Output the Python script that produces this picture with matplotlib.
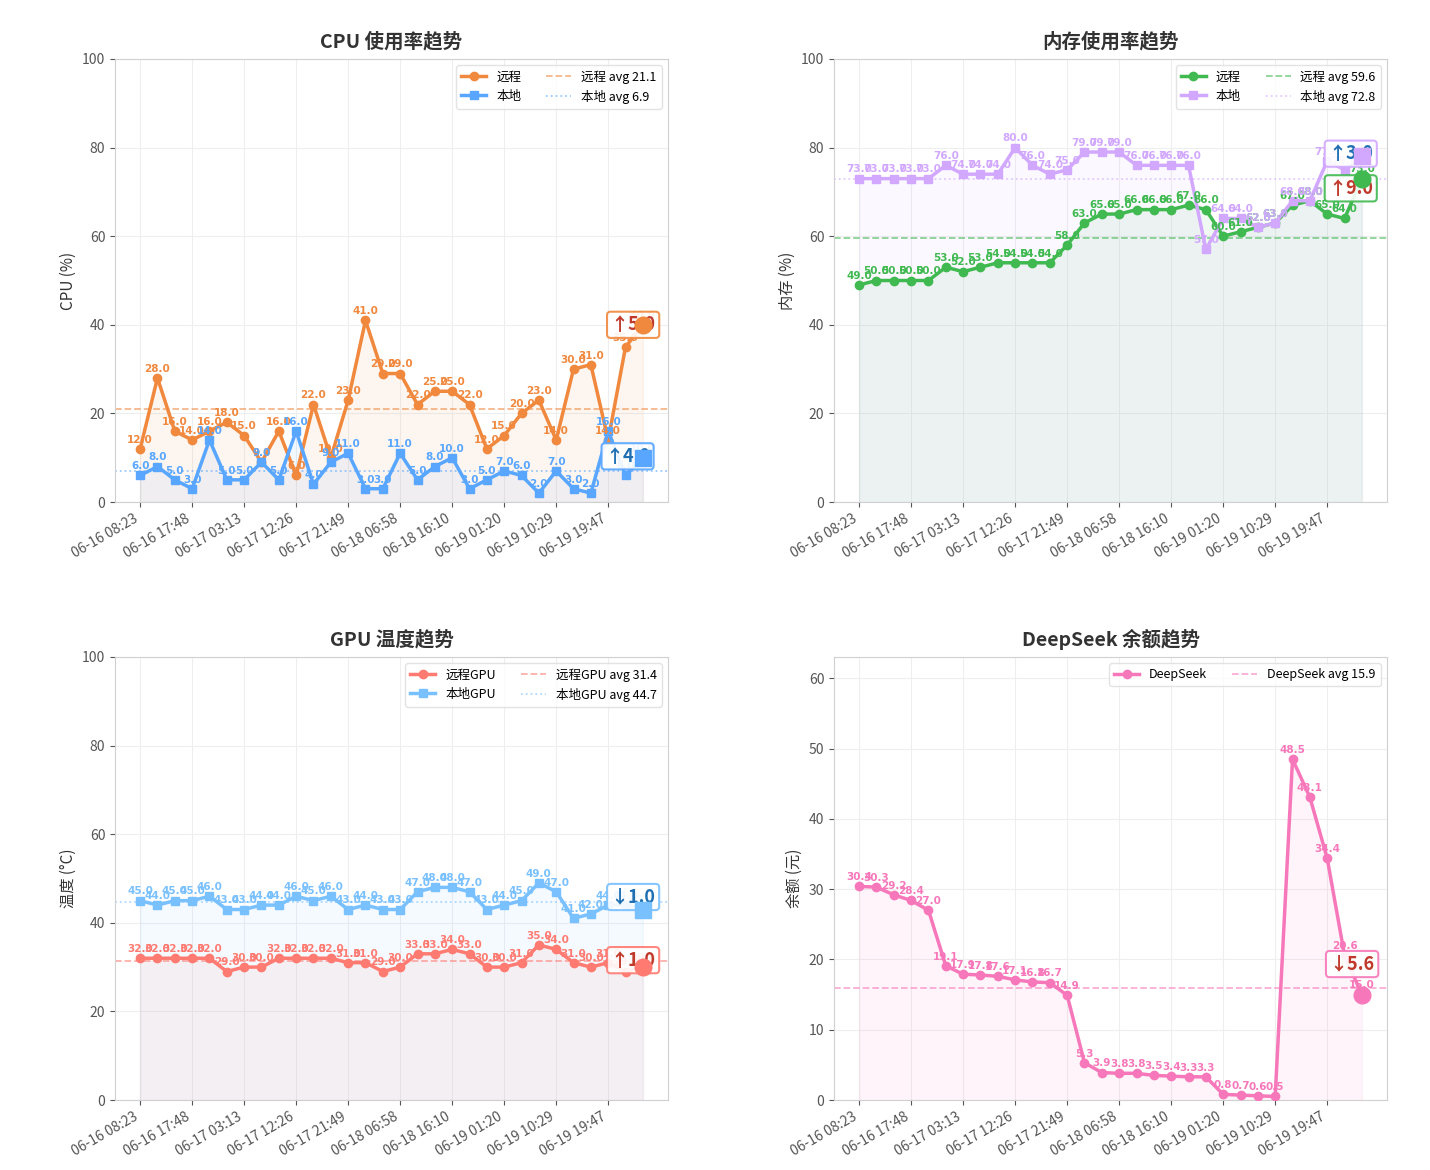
import matplotlib
matplotlib.use("Agg")
import matplotlib.pyplot as plt
import numpy as np

plt.rcParams['font.family'] = ['Noto Sans CJK SC', 'DejaVu Sans']
plt.rcParams['axes.unicode_minus'] = False

# ---------------- data ----------------
tick_labels = ["06-16 08:23", "06-16 17:48", "06-17 03:13", "06-17 12:26", "06-17 21:49",
               "06-18 06:58", "06-18 16:10", "06-19 01:20", "06-19 10:29", "06-19 19:47"]

cpu_remote = [12, 28, 16, 14, 16, 18, 15, 9, 16, 6, 22, 10, 23, 41, 29, 29, 22, 25, 25, 22,
              12, 15, 20, 23, 14, 30, 31, 14, 35, 40]
cpu_local = [6, 8, 5, 3, 14, 5, 5, 9, 5, 16, 4, 9, 11, 3, 3, 11, 5, 8, 10, 3,
             5, 7, 6, 2, 7, 3, 2, 16, 6, 10]

mem_remote = [49, 50, 50, 50, 50, 53, 52, 53, 54, 54, 54, 54, 58, 63, 65, 65, 66, 66, 66, 67,
              66, 60, 61, 62, 63, 67, 68, 65, 64, 73]
mem_local = [73, 73, 73, 73, 73, 76, 74, 74, 74, 80, 76, 74, 75, 79, 79, 79, 76, 76, 76, 76,
             57, 64, 64, 62, 63, 68, 68, 77, 75, 78]

gpu_remote = [32, 32, 32, 32, 32, 29, 30, 30, 32, 32, 32, 32, 31, 31, 29, 30, 33, 33, 34, 33,
              30, 30, 31, 35, 34, 31, 30, 31, 29, 30]
gpu_local = [45, 44, 45, 45, 46, 43, 43, 44, 44, 46, 45, 46, 43, 44, 43, 43, 47, 48, 48, 47,
             43, 44, 45, 49, 47, 41, 42, 44, 44, 43]

deepseek = [30.4, 30.3, 29.2, 28.4, 27.0, 19.1, 17.9, 17.8, 17.6, 17.1, 16.8, 16.7, 14.9, 5.3, 3.9,
            3.8, 3.8, 3.5, 3.4, 3.3, 3.3, 0.8, 0.7, 0.6, 0.5, 48.5, 43.1, 34.4, 20.6, 15.0]

# ---------------- style ----------------
C_ORANGE = "#f0883e"
C_BLUE = "#58a6ff"
C_GREEN = "#3fb950"
C_PURPLE = "#d2a8ff"
C_RED = "#ff7b72"
C_LBLUE = "#79c0ff"
C_PINK = "#f778ba"
TXT_UP = "#c0392b"
TXT_2 = "#1f6fb2"

fig = plt.figure(figsize=(14.3, 11.7), dpi=100)
W, H = 1430, 1170
def ax_at(x0, y0, x1, y1):
    return fig.add_axes([x0 / W, 1 - y1 / H, (x1 - x0) / W, (y1 - y0) / H])

axes = [ax_at(115, 59, 668, 502), ax_at(834, 59, 1387, 502),
        ax_at(115, 657, 668, 1100), ax_at(834, 657, 1387, 1100)]


def draw(ax, title, ylabel, series, ylim, box_offsets):
    n = len(series[0][1])
    x = np.arange(n)
    handles = []
    for k, (name, vals, color, marker) in enumerate(series):
        vals = np.asarray(vals, dtype=float)
        ax.fill_between(x, vals, 0, color=color, alpha=0.08, zorder=1)
        ln, = ax.plot(x, vals, color=color, lw=2.5, marker=marker, ms=6, zorder=3, label=name)
        handles.append(ln)
        for xi, v in zip(x, vals):
            ax.annotate(f"{v:.1f}", (xi, v), xytext=(0, 3), textcoords="offset points",
                        ha="center", va="bottom", fontsize=7.5, fontweight="bold",
                        color=color, zorder=4, family=['DejaVu Sans'])
    avg_handles = []
    for k, (name, vals, color, marker) in enumerate(series):
        avg = float(np.mean(vals))
        ls = "--" if k == 0 else ":"
        h = ax.axhline(avg, color=color, ls=ls, lw=1.3, alpha=0.6, zorder=2,
                       label=f"{name} avg {avg:.1f}")
        avg_handles.append(h)
    # delta boxes
    for k, (name, vals, color, marker) in enumerate(series):
        d = vals[-1] - vals[-2]
        arrow = "↑" if d >= 0 else "↓"
        tcol = TXT_UP if k == 0 else TXT_2
        ax.annotate(f"{arrow}{abs(d):.1f}", (x[-1], vals[-1]), xytext=box_offsets[k],
                    textcoords="offset points", ha="center", va="center",
                    fontsize=13, fontweight="bold", color=tcol, zorder=5,
                    bbox=dict(boxstyle="round,pad=0.2", fc="white", ec=color, lw=1.5, alpha=0.9))
        ax.plot([x[-1]], [vals[-1]], marker=marker, ms=12, color=color, zorder=6)
    ax.set_ylim(*ylim)
    ax.set_xticks(x[::3])
    ax.set_xticklabels(tick_labels, rotation=30, ha="right")
    ax.set_title(title, fontsize=14, fontweight="bold", color="#333333", pad=8)
    ax.set_ylabel(ylabel, fontsize=11, color="#333333")
    ax.grid(True, color="#eeeeee", lw=0.8)
    ax.set_axisbelow(True)
    for s in ax.spines.values():
        s.set_color("#d0d0d0")
    ax.tick_params(colors="#555555", labelsize=10)
    ax.legend(handles=handles + avg_handles, loc="upper right", ncol=2, fontsize=9,
              frameon=True, edgecolor="#dddddd", fancybox=True)


draw(axes[0], "CPU 使用率趋势", "CPU (%)",
     [("远程", cpu_remote, C_ORANGE, "o"), ("本地", cpu_local, C_BLUE, "s")],
     (0, 100), [(-7, 0), (-11, 1)])
draw(axes[1], "内存使用率趋势", "内存 (%)",
     [("远程", mem_remote, C_GREEN, "o"), ("本地", mem_local, C_PURPLE, "s")],
     (0, 100), [(-8, -7), (-8, 2)])
draw(axes[2], "GPU 温度趋势", "温度 (°C)",
     [("远程GPU", gpu_remote, C_RED, "o"), ("本地GPU", gpu_local, C_LBLUE, "s")],
     (0, 100), [(-7, 5), (-7, 9)])
draw(axes[3], "DeepSeek 余额趋势", "余额 (元)",
     [("DeepSeek", deepseek, C_PINK, "o")],
     (0, max(deepseek) * 1.3), [(-7, 22)])

fig.savefig("out.png", dpi=100, facecolor="white")
